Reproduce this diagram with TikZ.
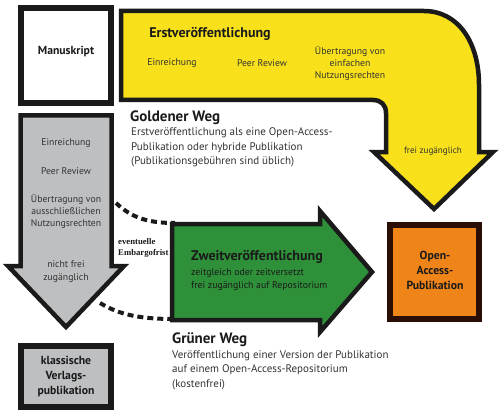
\documentclass[tikz,border=0pt]{standalone}
\usepackage{fontspec}
\setmainfont{PT Sans}
\newfontfamily\embfont{Liberation Serif}
\definecolor{ylw}{HTML}{F8E11B}
\definecolor{grn}{HTML}{2E9139}
\definecolor{org}{HTML}{EF8419}
\definecolor{gry}{HTML}{BEBFC1}
\definecolor{brd}{HTML}{1A1A1A}
\definecolor{obrd}{HTML}{2A0E06}
\definecolor{txt}{HTML}{333333}
\tikzset{
  shapeline/.style={draw=brd, line width=4.5pt, line join=miter},
  boxline/.style={draw=brd, line width=6pt},
  smalltxt/.style={font=\fontsize{9.7}{12}\selectfont, align=center, text=txt, inner sep=0pt},
  headtxt/.style={font=\fontsize{14}{16}\selectfont\bfseries, text=brd, inner sep=0pt},
  weghead/.style={font=\fontsize{15}{17}\selectfont\bfseries, text=brd, inner sep=0pt},
  bodytxt/.style={font=\fontsize{11}{14.5}\selectfont, align=left, text=txt, inner sep=0pt},
  boxtxt/.style={font=\fontsize{11.7}{15}\selectfont\bfseries, align=center, text=brd, inner sep=0pt},
  dashline/.style={draw=brd, line width=4pt, dash pattern=on 6pt off 4pt},
}
\begin{document}
\begin{tikzpicture}[x=1pt,y=-1pt]
\useasboundingbox (0,0) rectangle (500,417);
% dashed connectors
\coordinate (d1a) at (116,203);
\coordinate (d1b) at (175,223);
\coordinate (d2a) at (100,303);
\coordinate (d2b) at (175,319);
\draw[dashline] (d1a) .. controls (132,218) and (148,223) .. (d1b);
\draw[dashline] (d2a) .. controls (120,315) and (140,319) .. (d2b);
% Manuskript box
\draw[boxline, fill=white] (21,8) rectangle (111,103);
\node[boxtxt] (manu) at (66,52) {Manuskript};
% yellow arrow
\draw[shapeline, fill=ylw] (121,11) -- (424,11) .. controls (458,11) and (479,42) .. (479,85)
  -- (479,152) -- (493,152) -- (434,209) -- (374,152) -- (386,152) -- (386,113)
  .. controls (386,105) and (381,100) .. (373,100) -- (121,100) -- cycle;
\node[headtxt] (erst) at (210,34) {Erstveröffentlichung};
\node[smalltxt] (y1) at (172,63) {Einreichung};
\node[smalltxt] (y2) at (262,63) {Peer Review};
\node[smalltxt] (y3) at (350,63) {Übertragung von\\einfachen\\Nutzungsrechten};
\node[smalltxt, font=\fontsize{9.1}{10}\selectfont] (y4) at (433,151) {frei zugänglich};
% Goldener Weg
\node[anchor=west, weghead] (gw) at (130,118) {Goldener Weg};
\node[anchor=west, bodytxt] (gwt) at (131,147.5) {Erstveröffentlichung als eine Open-Access-\\Publikation oder hybride Publikation\\(Publikationsgebühren sind üblich)};
% gray arrow
\draw[shapeline, fill=gry] (20.5,115.5) -- (111.5,115.5) -- (111.5,266) -- (124,266) -- (66,327) -- (8,266) -- (20.5,266) -- cycle;
\node[smalltxt] (g1) at (66,143) {Einreichung};
\node[smalltxt] (g2) at (66,171) {Peer Review};
\node[smalltxt] (g3) at (66,211) {Übertragung von\\ausschließlichen\\Nutzungsrechten};
\node[smalltxt, font=\fontsize{9.7}{13}\selectfont] (g4) at (66,271.5) {nicht frei\\zugänglich};
% embargo
\node[anchor=west, font=\fontsize{8.7}{10.5}\selectfont\embfont\bfseries, align=left, text=brd, inner sep=0pt] (emb) at (118,248) {eventuelle\\Embargofrist};
% klassische box
\draw[boxline, fill=gry] (21,346) rectangle (111,407);
\node[boxtxt] (klass) at (66,377) {klassische\\Verlags-\\publikation};
% green arrow
\draw[shapeline, fill=grn] (172,224) -- (320,224) -- (320,211) -- (372,272) -- (320,332) -- (320,320) -- (172,320) -- cycle;
\node[anchor=west, headtxt] (zweit) at (191,257) {Zweitveröffentlichung};
\node[anchor=west, font=\fontsize{9.8}{13}\selectfont, align=left, text=brd, inner sep=0pt] (zt) at (191,279.5) {zeitgleich oder zeitversetzt\\frei zugänglich auf Repositorium};
% orange box
\draw[draw=obrd, line width=6pt, fill=org] (390,225) rectangle (479,319);
\node[boxtxt] (oa) at (435,270) {Open-\\Access-\\Publikation};
% Gruener Weg
\node[anchor=west, weghead] (grw) at (172,340) {Grüner Weg};
\node[anchor=west, bodytxt] (grwt) at (172,370) {Veröffentlichung einer Version der Publikation\\auf einem Open-Access-Repositorium\\(kostenfrei)};
\end{tikzpicture}
\end{document}
